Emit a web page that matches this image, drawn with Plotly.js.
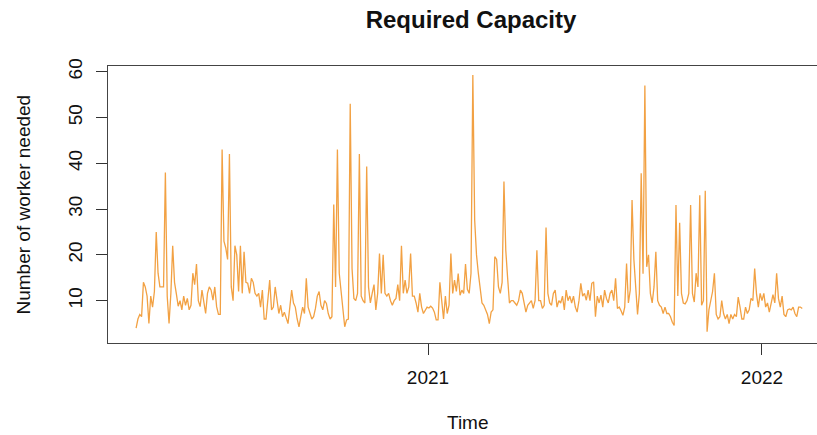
<!DOCTYPE html>
<html>
<head>
<meta charset="utf-8">
<script src="https://cdn.plot.ly/plotly-3.0.1.min.js"></script>
<style>html,body{margin:0;padding:0;background:#fff;}#chart{width:817px;height:435px;}</style>
</head>
<body>
<div id="chart"></div>
<script>
// Daily series sampled every 2 days (R ts, frequency 365)
const seriesStart = 2020 + 46 / 365;
const stepDays = 2;
const workers = [
  4, 6, 7, 6.5, 14, 13, 11, 5, 11, 8.6,
  12, 25, 16, 13, 13, 13, 38, 11, 5, 11.6,
  22, 14, 11.5, 8.8, 10, 8, 11, 9, 10.5, 8,
  9, 16, 13.5, 18, 10, 8.7, 12.3, 9.4, 7.2, 11.6,
  13, 12.3, 10.1, 13, 8.7, 7, 7, 43, 23, 21.5,
  19, 42, 13, 10, 22, 20, 12, 22, 11.6, 20.7,
  14, 13.8, 11.6, 14.9, 14, 11.6, 11, 11.6, 8.6, 12.3,
  6, 6, 10.8, 14.5, 8, 8.6, 13, 10, 7.2, 9,
  6.5, 7.5, 6, 5, 8.6, 12.3, 9.5, 8.6, 6, 4.3,
  6.5, 8.6, 7.2, 14.9, 8.6, 7.2, 6, 6.5, 8.3, 11,
  12, 9, 8, 10, 9.4, 7.2, 6, 6.5, 31, 13,
  43, 16, 12, 7.2, 4.3, 5.8, 6, 53, 17, 10.5,
  10, 11.6, 42, 11, 10, 9.5, 39.3, 13, 9.5, 11.6,
  13.5, 8, 11.6, 20.3, 11.6, 20, 11.6, 11, 11.6, 10,
  9, 10, 10.5, 13.5, 10, 22, 11.6, 14.5, 11.6, 13,
  20.3, 11, 11, 9.5, 7.5, 11.6, 8.6, 7.2, 8, 8.6,
  8.4, 8.8, 8.4, 7.5, 5.8, 5.8, 14, 10, 6, 11,
  7.2, 9, 20.3, 11.6, 14.5, 12, 15.9, 11.2, 12.3, 11.6,
  18, 12.5, 11.6, 16, 59.3, 27.6, 20, 16, 12.3, 9.5,
  9, 8, 7, 5, 7.5, 8, 19.6, 19, 13, 11.6,
  14, 36, 21, 15, 9.5, 10, 10, 9.5, 9, 10,
  12.3, 11.6, 9.5, 7.5, 9, 9.5, 10, 8.3, 10, 21,
  10, 10, 8.3, 9, 26, 11.6, 9.5, 9, 11.6, 12.3,
  8.6, 10, 9.5, 11, 8, 12.3, 10, 11, 9.5, 11,
  8.6, 7.5, 10, 13.8, 11, 11.6, 10.1, 12.3, 10, 13.8,
  14.1, 6.5, 11, 9.5, 11.2, 8.6, 12.3, 10.5, 9.5, 11.6,
  12.3, 10, 14.9, 8.3, 8.6, 7.8, 6.8, 8.6, 18.1, 9.5,
  12.3, 32, 19, 13, 7, 11.6, 37.8, 15.9, 57, 17.4,
  20, 11.6, 9.5, 13, 20.7, 10, 9, 8.6, 7.2, 8.6,
  7.2, 7.2, 6.5, 5.3, 4.6, 30.9, 11, 27, 11.6, 9.5,
  9.3, 10, 11.6, 30.9, 11.6, 9.7, 16, 13, 33, 9,
  10, 34, 3.2, 8, 10, 12, 16, 7, 6, 6.5,
  10, 7.2, 6, 7, 5, 7, 6, 7, 6.5, 10.8,
  8.6, 6, 6, 8.6, 7.2, 8, 10.5, 10, 17, 11.5,
  8.6, 11.6, 10, 11.6, 8.6, 9.5, 7.5, 9.5, 11.3, 9.5,
  16, 10.5, 8.6, 11, 7, 6.5, 8, 8.2, 8, 8.6,
  7.2, 6.5, 8.6, 8.6, 8.3
];
const yTicks = [10, 20, 30, 40, 50, 60];
const xTicks = [2021, 2022];
const xTickLabels = ['2021', '2022'];

const time = workers.map((_, i) => seriesStart + i * stepDays / 365);

const font = {family: 'Liberation Sans, Arial, sans-serif', size: 19, color: '#111'};

const trace = {
  x: time,
  y: workers,
  type: 'scatter',
  mode: 'lines',
  line: {color: '#F2A143', width: 1.3},
  hoverinfo: 'x+y'
};

const layout = {
  width: 817,
  height: 435,
  margin: {l: 108, r: 0, t: 66, b: 92},
  paper_bgcolor: '#fff',
  plot_bgcolor: '#fff',
  showlegend: false,
  font: font,
  title: {
    text: '<b>Required Capacity</b>',
    font: {family: 'Liberation Sans, Arial, sans-serif', size: 24, color: '#111'},
    x: 471 / 817, xref: 'container', xanchor: 'center',
    y: 1 - 20 / 435, yref: 'container', yanchor: 'middle'
  },
  xaxis: {
    range: [2020.0419, 2022.1647],
    tickmode: 'array',
    tickvals: xTicks,
    ticktext: xTickLabels,
    ticks: 'outside',
    ticklen: 11,
    tickwidth: 1,
    tickcolor: '#333',
    showline: true,
    mirror: true,
    linecolor: '#444',
    linewidth: 1,
    showgrid: false,
    zeroline: false,
    tickfont: font,
    ticklabelstandoff: 6,
    title: {text: ''}
  },
  yaxis: {
    range: [0.76, 61.24],
    tickmode: 'array',
    tickvals: yTicks,
    ticks: 'outside',
    ticklen: 11,
    tickwidth: 1,
    tickcolor: '#333',
    tickangle: -90,
    showline: true,
    linecolor: '#444',
    linewidth: 1,
    showgrid: false,
    zeroline: false,
    tickfont: font,
    ticklabelstandoff: 6,
    title: {text: ''}
  },
  annotations: [
    {text: 'Time', xref: 'paper', yref: 'paper', x: (468 - 108) / 709, y: -(422.5 - 343) / 277,
     xanchor: 'center', yanchor: 'middle', showarrow: false, font: font},
    {text: 'Number of worker needed', xref: 'paper', yref: 'paper', x: -(108 - 22.5) / 709, y: (343 - 205) / 277,
     xanchor: 'center', yanchor: 'middle', showarrow: false, textangle: -90, font: font}
  ]
};

Plotly.newPlot('chart', [trace], layout, {staticPlot: true, displayModeBar: false});
</script>
</body>
</html>
